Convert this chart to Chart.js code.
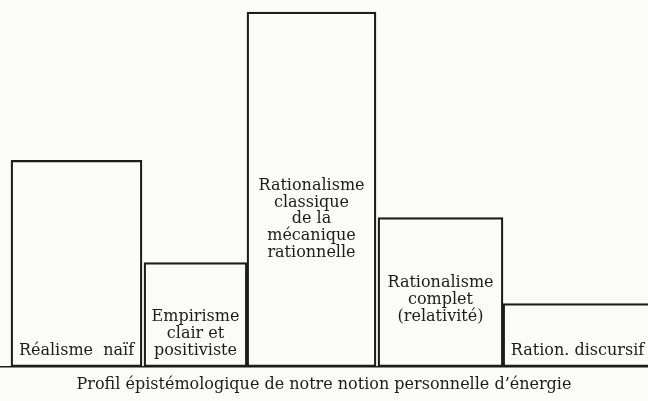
<!DOCTYPE html>
<html>
<head>
<meta charset="utf-8">
<script src="https://cdn.jsdelivr.net/npm/chart.js@4"></script>
<style>
  html, body { margin: 0; padding: 0; background: #fbfbfa; }
  #wrap { width: 648px; height: 401px; }
</style>
</head>
<body>
<div id="wrap"><canvas id="profile"></canvas></div>
<script>
// categories, one entry per bar, split into printed lines
const categories = [
    ['Réalisme  naïf'],
    ['Empirisme', 'clair et', 'positiviste'],
    ['Rationalisme', 'classique', 'de la', 'mécanique', 'rationnelle'],
    ['Rationalisme', 'complet', '(relativité)'],
    ['Ration. discursif']
];
// height of each bar (relative importance of the notion)
const heights = [206, 104, 354, 149, 63];
// horizontal extent of each bar on the x scale
const spanStart = [11, 144, 247, 378, 503];
const spanEnd = [142, 247, 376, 503, 652];
const caption = 'Profil épistémologique de notre notion personnelle d\u2019énergie';

// label placement: distance from the base to the centre of the last line
const labelLift = [16, 16, 114, 50, 16];
const lineStep = 16.8;
const ink = '#1c1c1c';
const serif = '"DejaVu Serif", "Liberation Serif", serif';

const datasets = categories.map((cat, i) => ({
    label: cat.join(' '),
    data: [{ x: (spanStart[i] + spanEnd[i]) / 2, y: heights[i] }],
    barThickness: spanEnd[i] - spanStart[i],
    backgroundColor: 'rgba(0,0,0,0)',
    borderColor: ink,
    borderWidth: 1.6,
    borderSkipped: false,
    grouped: false
}));

const barLabels = {
    id: 'barLabels',
    afterDatasetsDraw(chart) {
        const ctx = chart.ctx;
        ctx.save();
        ctx.fillStyle = ink;
        ctx.font = '16px ' + serif;
        ctx.textAlign = 'center';
        ctx.textBaseline = 'middle';
        chart.data.datasets.forEach((ds, i) => {
            const bar = chart.getDatasetMeta(i).data[0];
            const lines = categories[i];
            const lastY = bar.base - labelLift[i];
            lines.forEach((line, j) => {
                ctx.fillText(line, bar.x, lastY - (lines.length - 1 - j) * lineStep);
            });
        });
        ctx.restore();
    }
};

new Chart(document.getElementById('profile'), {
    type: 'bar',
    data: { datasets },
    options: {
        responsive: true,
        maintainAspectRatio: false,
        animation: false,
        layout: { padding: 0 },
        scales: {
            x: {
                type: 'linear',
                min: 0,
                max: 648,
                offset: false,
                ticks: { display: false },
                grid: { display: false },
                border: { display: true, color: ink, width: 1.6 }
            },
            y: {
                min: 0,
                max: 366,
                display: false
            }
        },
        plugins: {
            legend: { display: false },
            tooltip: { enabled: false },
            title: {
                display: true,
                position: 'bottom',
                text: caption,
                color: ink,
                font: { family: serif, size: 16, weight: 'normal' },
                padding: { top: 0, bottom: 7 }
            }
        }
    },
    plugins: [barLabels]
});
</script>
</body>
</html>
